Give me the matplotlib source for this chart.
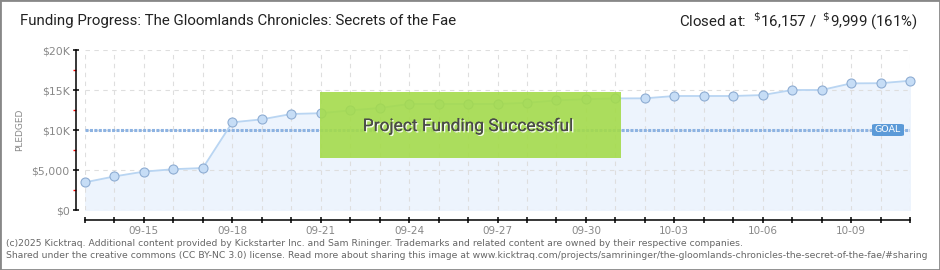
import numpy as np
import pandas as pd
import matplotlib
matplotlib.use("Agg")
import matplotlib.pyplot as plt
import matplotlib.patheffects as pe
from matplotlib.patches import Rectangle, FancyBboxPatch

# daily pledged totals
start_date = "2025-09-13"
pledged = [3460, 4200, 4800, 5100, 5250, 10960, 11330, 12000, 12100, 12450,
           12750, 13250, 13250, 13250, 13250, 13400, 13700, 13850, 13950, 13960,
           14250, 14250, 14250, 14370, 15000, 15000, 15830, 15850, 16157]
goal = 9999
y_ticks = [0, 5000, 10000, 15000, 20000]
y_labels = ["$0", "$5,000", "$10K", "$15K", "$20K"]
title = "Funding Progress: The Gloomlands Chronicles: Secrets of the Fae"
closed_text = r"Closed at:  $^{\$}$16,157 /  $^{\$}$9,999 (161%)"
footer1 = ("(c)2025 Kicktraq. Additional content provided by Kickstarter Inc. and Sam Rininger. "
           "Trademarks and related content are owned by their respective companies.")
footer2 = ("Shared under the creative commons (CC BY-NC 3.0) license. Read more about sharing this image at "
           "www.kicktraq.com/projects/samrininger/the-gloomlands-chronicles-the-secret-of-the-fae/#sharing")

dates = pd.date_range(start_date, periods=len(pledged), freq="D")

narrow = ["Roboto", "DejaVu Sans"]
W, H = 940, 270
fig = plt.figure(figsize=(W / 100, H / 100), dpi=100)
fig.patch.set_facecolor("white")

# plot area in pixels: x 85..910, y 50..210 (from top)
ax = fig.add_axes([85 / W, (H - 210) / H, 825 / W, 160 / H])
ax.set_facecolor("none")

ax.fill_between(dates, pledged, 0, color="#edf4fd", zorder=1)
ax.plot(dates, pledged, color="#b9d5f2", lw=1.3, zorder=3)
ax.plot(dates, pledged, ls="none", marker="o", ms=6.5, mfc="#c6ddf6",
        mec="#8eadd3", mew=0.8, zorder=4, clip_on=False)

# goal line
ax.axhline(goal, color="#8db3e2", lw=2.2, dashes=(1.0, 0.45), zorder=2)

ax.set_xlim(dates[0], dates[-1])
ax.set_ylim(0, 20000)

# grid
ax.set_xticks(dates)
ax.set_yticks(y_ticks)
ax.grid(True, color="#dedede", lw=0.8, ls=(0, (4, 4)), zorder=0)

# labels every third day starting at 09-15
xl = [d.strftime("%m-%d") if (i - 2) % 3 == 0 else "" for i, d in enumerate(dates)]
ax.set_xticklabels(xl)
ax.set_yticklabels(y_labels)
ax.set_yticks([2500, 7500, 12500, 17500], minor=True)

for s in ["top", "right"]:
    ax.spines[s].set_visible(False)
ax.spines["left"].set_position(("outward", 6.5))
ax.spines["bottom"].set_position(("outward", 7.2))
ax.spines["left"].set_linewidth(1.1)
ax.spines["bottom"].set_linewidth(1.1)

ax.tick_params(axis="x", which="major", direction="inout", length=4.5, width=1.1,
               colors="black", labelcolor="#888888", labelsize=7.5, pad=2)
ax.tick_params(axis="y", which="major", direction="inout", length=4, width=1.1,
               colors="black", labelcolor="#888888", labelsize=7.8, pad=2.5)
ax.tick_params(axis="y", which="minor", direction="out", length=2.5, width=1,
               colors="red")

fig.text(20 / W, 1 - 130 / H, "PLEDGED", rotation=90, ha="center", va="center",
         color="#888888", fontsize=6.5)

# goal badge
fig.patches.append(FancyBboxPatch((872 / W, 1 - 136 / H), 32 / W, 12 / H,
                                  boxstyle="round,pad=0,rounding_size=0.004",
                                  transform=fig.transFigure, fc="#5b9ad8",
                                  ec="none", zorder=5))
fig.text(888 / W, 1 - 130 / H, "GOAL", ha="center", va="center", color="white",
         fontsize=6.8, family="DejaVu Sans", zorder=6)

# success banner
fig.patches.append(Rectangle((320 / W, 1 - 158 / H), 301 / W, 66 / H,
                             transform=fig.transFigure, fc="#a4db4b", alpha=0.9,
                             ec="none", zorder=5))
fig.text(468 / W, 1 - 126 / H, "Project Funding Successful", ha="center",
         va="center", color="#4a4a4a", fontsize=12.5, family=narrow, zorder=6,
         path_effects=[pe.withSimplePatchShadow(offset=(1, -1), shadow_rgbFace="white", alpha=0.9),
                       pe.Normal()])

# header
fig.text(20 / W, 1 - 21 / H, title, ha="left", va="center", fontsize=10.8,
         color="#222222", family=narrow)
fig.text(918 / W, 1 - 21 / H, closed_text, ha="right", va="center",
         fontsize=10.8, color="#222222", family=narrow)

# footer
fig.text(6 / W, 1 - 244 / H, footer1, ha="left", va="center", fontsize=6.7,
         color="#666666")
fig.text(6 / W, 1 - 256 / H, footer2, ha="left", va="center", fontsize=6.7,
         color="#666666")

# outer frame
fig.patches.append(Rectangle((0, 0), 1, 1, transform=fig.transFigure,
                             fill=False, ec="#888888", lw=2, zorder=10))

fig.savefig("out.png", dpi=100)
